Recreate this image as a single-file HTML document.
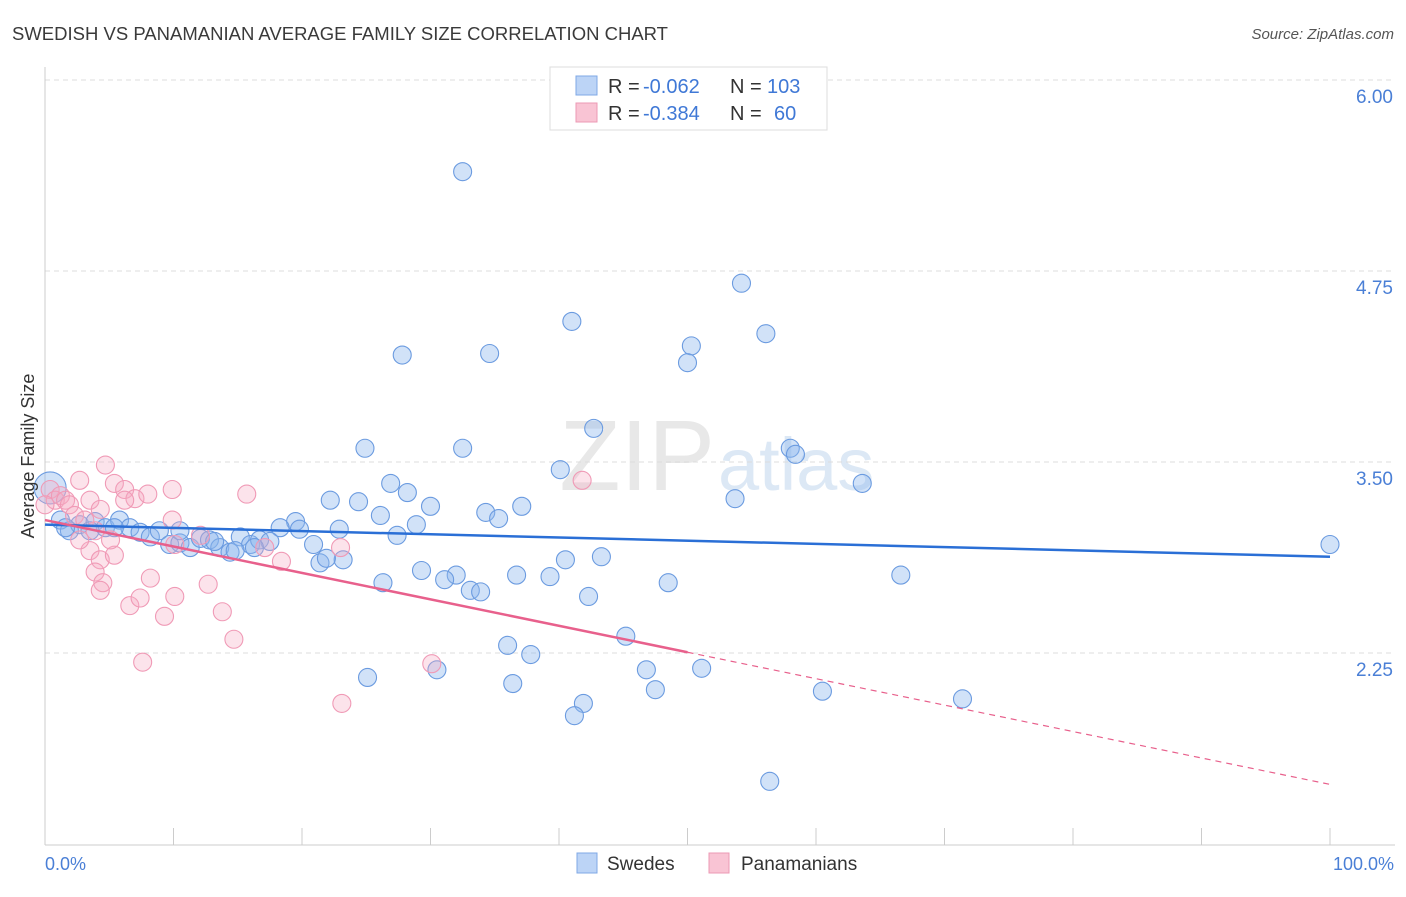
<!DOCTYPE html>
<html><head><meta charset="utf-8">
<style>
body{margin:0;background:#fff;font-family:"Liberation Sans",sans-serif;}
svg text{font-family:"Liberation Sans",sans-serif;}
</style></head>
<body>
<svg id="chart" width="1406" height="892" xmlns="http://www.w3.org/2000/svg">
<text x="12" y="40" font-size="18" fill="#3a3a3a" textLength="656" lengthAdjust="spacingAndGlyphs">SWEDISH VS PANAMANIAN AVERAGE FAMILY SIZE CORRELATION CHART</text>
<text x="1394" y="39" font-size="15" fill="#555" font-style="italic" text-anchor="end">Source: ZipAtlas.com</text>
<text x="715" y="490" font-size="100" fill="#e8e8e8" text-anchor="end" font-family="Liberation Serif">ZIP</text>
<text x="718" y="490" font-size="74" fill="#dce8f5">atlas</text>
<g id="grid"></g>
<g id="axes"></g>
<g id="pts"></g>
<g id="trends"></g>
<text transform="translate(34,456) rotate(-90)" font-size="18" fill="#333" text-anchor="middle">Average Family Size</text>
<text x="45" y="870" font-size="18" fill="#4a7fd6">0.0%</text>
<text x="1394" y="870" font-size="18" fill="#4a7fd6" text-anchor="end">100.0%</text>
<g>
<rect x="550" y="67" width="277" height="63" fill="#fff" stroke="#ddd"/>
<rect x="576" y="76" width="21" height="19" fill="#bcd4f6" stroke="#7fa8e6"/>
<rect x="576" y="103" width="21" height="19" fill="#f9c4d4" stroke="#ec9ab4"/>
<text x="608" y="93" font-size="20" fill="#333">R =</text>
<text x="643" y="93" font-size="20" fill="#3f78d6">-0.062</text>
<text x="730" y="93" font-size="20" fill="#333">N =</text>
<text x="767" y="93" font-size="20" fill="#3f78d6">103</text>
<text x="608" y="120" font-size="20" fill="#333">R =</text>
<text x="643" y="120" font-size="20" fill="#3f78d6">-0.384</text>
<text x="730" y="120" font-size="20" fill="#333">N =</text>
<text x="774" y="120" font-size="20" fill="#3f78d6">60</text>
</g>
<g>
<rect x="577" y="853" width="20" height="20" fill="#bcd4f6" stroke="#7fa8e6"/>
<text x="607" y="870" font-size="19" fill="#333">Swedes</text>
<rect x="709" y="853" width="20" height="20" fill="#f9c4d4" stroke="#ec9ab4"/>
<text x="741" y="870" font-size="19" fill="#333">Panamanians</text>
</g>
</svg>
<script>
const yTicks=[6.00,4.75,3.50,2.25];
const yTickLabels=["6.00","4.75","3.50","2.25"];
const xTickVals=[0,10,20,30,40,50,60,70,80,90,100];
const swedesX=[32.5,54.2,41.0,56.1,27.8,34.6,50.3,50.0,42.7,24.9,32.5,58.0,58.4,40.1,63.6,26.9,53.7,22.2,24.4,28.2,30.0,34.3,37.1,26.1,35.3,28.9,22.9,19.5,18.3,19.8,100,27.4,20.9,21.4,23.2,21.9,29.3,32.0,31.1,26.3,36.7,39.3,40.5,43.3,48.5,66.6,33.1,33.9,42.3,45.2,36.0,37.8,46.8,51.1,25.1,30.5,36.4,47.5,60.5,71.4,41.9,41.2,56.4,1.2,1.9,2.7,3.9,4.7,5.8,6.6,7.4,8.2,8.9,9.7,10.5,11.3,12.1,12.8,13.6,14.4,15.2,16.0,16.7,17.5,10.5,13.2,14.8,16.3,3.5,5.4,1.6];
const swedesY=[5.40,4.67,4.42,4.34,4.20,4.21,4.26,4.15,3.72,3.59,3.59,3.59,3.55,3.45,3.36,3.36,3.26,3.25,3.24,3.30,3.21,3.17,3.21,3.15,3.13,3.09,3.06,3.11,3.07,3.06,2.96,3.02,2.96,2.84,2.86,2.87,2.79,2.76,2.73,2.71,2.76,2.75,2.86,2.88,2.71,2.76,2.66,2.65,2.62,2.36,2.30,2.24,2.14,2.15,2.09,2.14,2.05,2.01,2.00,1.95,1.92,1.84,1.41,3.12,3.05,3.09,3.11,3.07,3.12,3.07,3.04,3.01,3.05,2.96,2.97,2.94,3.00,2.99,2.94,2.91,3.01,2.96,2.99,2.98,3.05,2.98,2.92,2.94,3.05,3.07,3.07];
const panX=[0.4,0.8,1.2,1.6,1.9,2.7,4.7,5.4,6.2,7.0,8.0,9.9,15.7,3.5,4.3,2.3,3.1,0,41.8,9.9,10.1,3.5,4.3,3.9,5.4,8.2,4.5,4.3,6.6,7.4,10.1,9.3,12.7,13.8,14.7,7.6,23.1,30.1,18.4,23.0,17.1,12.1,2.7,5.1,6.2,3.9];
const panY=[3.32,3.25,3.28,3.25,3.22,3.38,3.48,3.36,3.32,3.26,3.29,3.32,3.29,3.25,3.19,3.15,3.12,3.22,3.38,3.12,2.96,2.92,2.86,2.78,2.89,2.74,2.71,2.66,2.56,2.61,2.62,2.49,2.70,2.52,2.34,2.19,1.92,2.18,2.85,2.94,2.94,3.02,2.99,2.99,3.25,3.05];
const swedesTrend=[3.09,2.88];
const panTrend=[3.12,1.39];
const panSolidEnd=50;

const NS="http://www.w3.org/2000/svg";
const X=v=>45+v*12.85;
const Y=v=>80+(6-v)*152.8;
function mk(tag,attrs,parent){const e=document.createElementNS(NS,tag);for(const k in attrs)e.setAttribute(k,attrs[k]);parent.appendChild(e);return e;}
const grid=document.getElementById('grid'),axes=document.getElementById('axes'),pts=document.getElementById('pts'),tr=document.getElementById('trends');
yTicks.forEach((t,i)=>{
  const l=mk('line',{x1:45,x2:1395,y1:Y(t),y2:Y(t),stroke:'#ddd','stroke-dasharray':'5,4'},grid);
  
  
  const tx=mk('text',{x:1393,y:Y(t)+23,'font-size':19,fill:'#4a7fd6','text-anchor':'end'},grid);
  tx.textContent=yTickLabels[i];
  
  
});
const ya=mk('line',{x1:45,x2:45,y1:67,y2:845,stroke:'#ccc'},axes);


const xa=mk('line',{x1:45,x2:1395,y1:845,y2:845,stroke:'#ccc'},axes);


xTickVals.forEach(v=>{
  const t=mk('line',{x1:X(v),x2:X(v),y1:828,y2:845,stroke:'#ccc'},axes);
  
  
});
swedesX.forEach((x,i)=>{
  const c=mk('circle',{cx:X(x),cy:Y(swedesY[i]),r:9,fill:'rgba(140,182,238,0.4)',stroke:'#6b9be0','stroke-width':1.1},pts);
  
  
});
const big=mk('circle',{cx:X(0.4),cy:Y(3.33),r:16,fill:'rgba(140,182,238,0.4)',stroke:'#6b9be0','stroke-width':1.1},pts);


panX.forEach((x,i)=>{
  const c=mk('circle',{cx:X(x),cy:Y(panY[i]),r:9,fill:'rgba(246,170,194,0.33)',stroke:'#f09ab6','stroke-width':1.1},pts);
  
  
});
const bl=mk('line',{x1:X(0),y1:Y(swedesTrend[0]),x2:X(100),y2:Y(swedesTrend[1]),stroke:'#2a6fd6','stroke-width':2.5},tr);


const pm=panTrend[0]+(panTrend[1]-panTrend[0])*panSolidEnd/100;
const ps=mk('line',{x1:X(0),y1:Y(panTrend[0]),x2:X(panSolidEnd),y2:Y(pm),stroke:'#e8608c','stroke-width':2.5},tr);


const pd=mk('line',{x1:X(panSolidEnd),y1:Y(pm),x2:X(100),y2:Y(panTrend[1]),stroke:'#e8608c','stroke-width':1.2,'stroke-dasharray':'6,5'},tr);


</script>
</body></html>
